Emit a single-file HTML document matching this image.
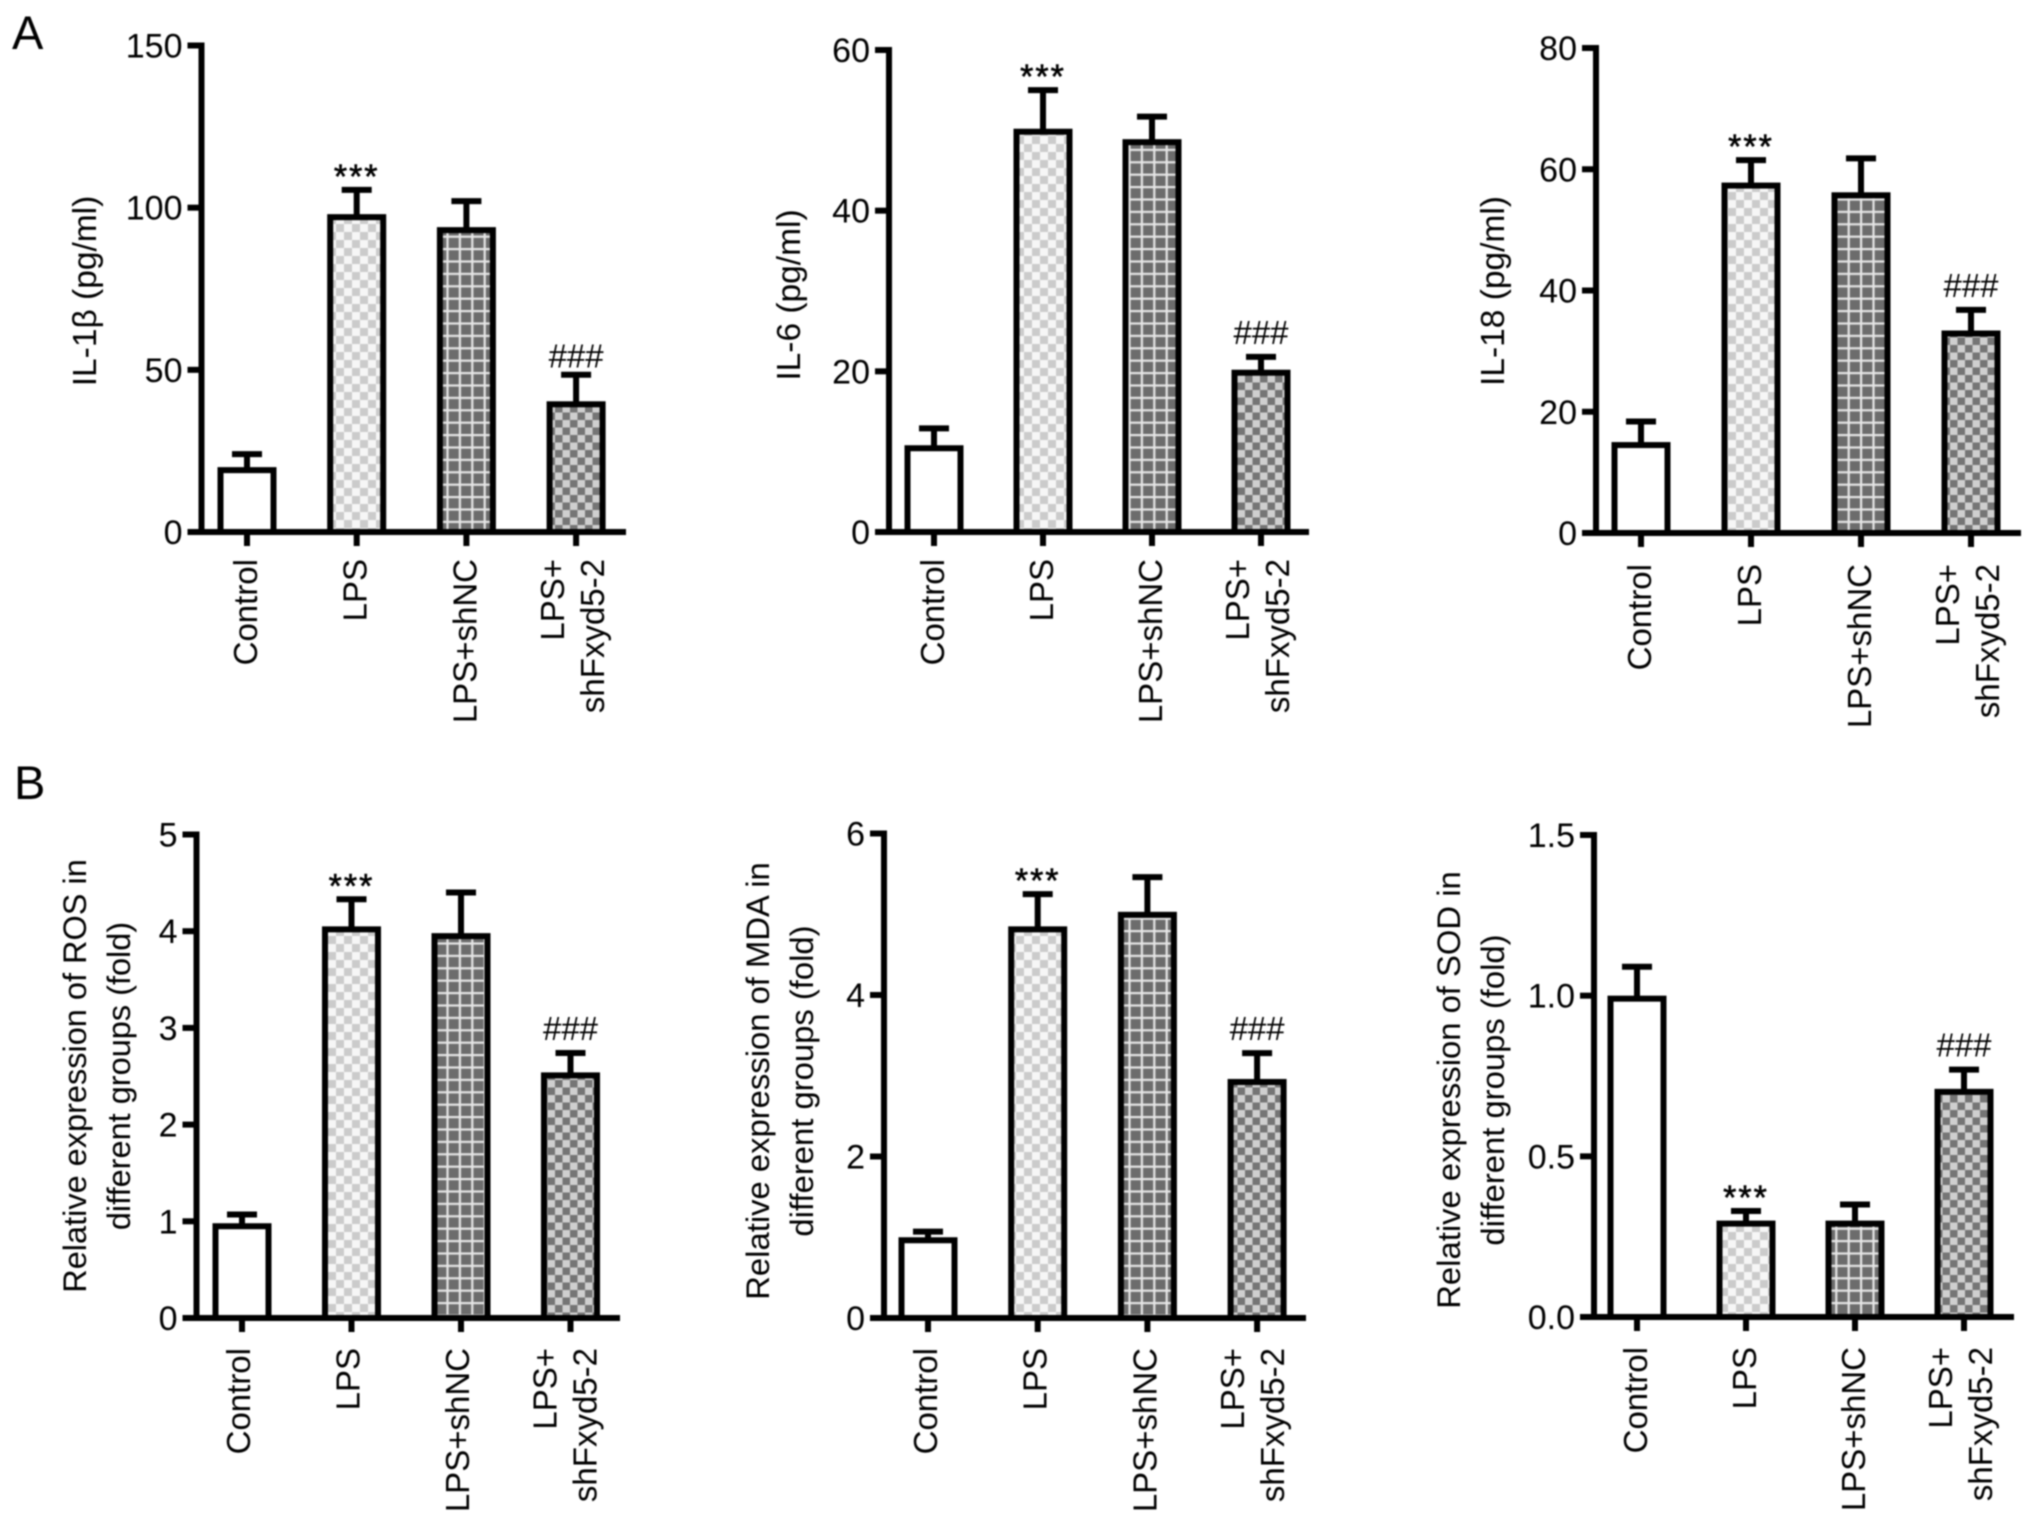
<!DOCTYPE html>
<html lang="en">
<head>
<meta charset="utf-8">
<title>Cytokine and oxidative stress bar charts</title>
<style>
html,body{margin:0;padding:0;background:#fff;}
svg{display:block;filter:blur(0.7px);}
text{font-family:"Liberation Sans",sans-serif;fill:#000;}
</style>
</head>
<body>
<svg id="figure" xmlns="http://www.w3.org/2000/svg" width="2032" height="1522" viewBox="0 0 2032 1522">
  <defs>
    <pattern id="p-light" patternUnits="userSpaceOnUse" width="16" height="16">
      <rect width="16" height="16" fill="#f6f6f6"/>
      <rect width="8" height="8" fill="#cbcbcb"/>
      <rect x="8" y="8" width="8" height="8" fill="#cbcbcb"/>
    </pattern>
    <pattern id="p-grid" patternUnits="userSpaceOnUse" width="12.4" height="12.4">
      <rect width="12.4" height="12.4" fill="#6c6c6c"/>
      <rect width="2.2" height="12.4" fill="#e6e6e6"/>
      <rect width="12.4" height="2.2" fill="#e6e6e6"/>
    </pattern>
    <pattern id="p-check" patternUnits="userSpaceOnUse" width="15" height="15">
      <rect width="15" height="15" fill="#cfcfcf"/>
      <rect width="7.5" height="7.5" fill="#757575"/>
      <rect x="7.5" y="7.5" width="7.5" height="7.5" fill="#757575"/>
    </pattern>
  </defs>
  <text x="12" y="49" font-size="47">A</text>
  <text x="14" y="799" font-size="47">B</text>
</svg>
<script>
// ---- Shared category data ----
const categories = ["Control", "LPS", "LPS+shNC", "LPS+|shFxyd5-2"];
const categorySlugs = ["control", "lps", "lps-shnc", "lps-shfxyd5-2"];
const barFills = ["#ffffff", "url(#p-light)", "url(#p-grid)", "url(#p-check)"];

// ---- Series values (bar mean, top of error bar) ----
const il1bValues = [20, 98, 94, 40.3];
const il1bErrorTops = [24, 105.5, 102, 48.5];
const il1bTicks = ["0", "50", "100", "150"];
const il1bMarks = ["", "***", "", "###"];

const il6Values = [10.8, 50.2, 48.9, 20.2];
const il6ErrorTops = [12.9, 55, 51.7, 21.8];
const il6Ticks = ["0", "20", "40", "60"];
const il6Marks = ["", "***", "", "###"];

const il18Values = [15, 57.8, 56.2, 33.4];
const il18ErrorTops = [18.4, 61.5, 61.8, 36.8];
const il18Ticks = ["0", "20", "40", "60", "80"];
const il18Marks = ["", "***", "", "###"];

const rosValues = [0.98, 4.05, 3.98, 2.54];
const rosErrorTops = [1.07, 4.33, 4.4, 2.74];
const rosTicks = ["0", "1", "2", "3", "4", "5"];
const rosMarks = ["", "***", "", "###"];

const mdaValues = [1, 4.85, 5.03, 2.96];
const mdaErrorTops = [1.07, 5.25, 5.46, 3.28];
const mdaTicks = ["0", "2", "4", "6"];
const mdaMarks = ["", "***", "", "###"];

const sodValues = [1, 0.3, 0.3, 0.71];
const sodErrorTops = [1.09, 0.33, 0.35, 0.77];
const sodTicks = ["0.0", "0.5", "1.0", "1.5"];
const sodMarks = ["", "***", "", "###"];

const NS = "http://www.w3.org/2000/svg";
const svg = document.getElementById("figure");

function mk(parent, tag, attrs, txt) {
  const el = document.createElementNS(NS, tag);
  for (const k in attrs) el.setAttribute(k, attrs[k]);
  if (txt !== undefined) el.textContent = txt;
  parent.appendChild(el);
  return el;
}

function drawPanel(p) {
  const FS = 33;
  const SW = 6;
  const g = mk(svg, "g", {});
  
  

  const maxTick = parseFloat(p.ticks[p.ticks.length - 1]);
  const yScale = v => p.bottom - (v / maxTick) * (p.bottom - p.top);
  const xScale = i => p.x0 + i * p.step;

  // bars and error bars
  p.values.forEach((v, i) => {
    const cx = xScale(i);
    const slug = categorySlugs[i];
    const yTop = yScale(p.errorTops[i]);
    const barTop = yScale(v) + SW / 2;

    const stem = mk(g, "line", {x1: cx, x2: cx, y1: barTop, y2: yTop, stroke: "#000", "stroke-width": SW});
    
    

    const cap = mk(g, "line", {x1: cx - 15, x2: cx + 15, y1: yTop, y2: yTop, stroke: "#000", "stroke-width": SW});
    
    

    const bar = mk(g, "rect", {x: cx - 26.5, y: barTop, width: 53, height: p.bottom - barTop, fill: barFills[i], stroke: "#000", "stroke-width": SW});
    
    

    const mark = p.marks[i];
    if (mark === "***") {
      const s = mk(g, "text", {x: cx, y: yTop - 2, "font-size": 34, "text-anchor": "middle", "letter-spacing": 2, stroke: "#000", "stroke-width": 0.6}, mark);
      
      
    } else if (mark === "###") {
      const s = mk(g, "text", {x: cx, y: yTop - p.hashLift, "font-size": 33, "text-anchor": "middle"}, mark);
      
      
    }
  });

  // axes
  const yAxis = mk(g, "line", {x1: p.axisX, x2: p.axisX, y1: p.top - 3, y2: p.bottom + 3, stroke: "#000", "stroke-width": SW});
  
  

  const xAxis = mk(g, "line", {x1: p.axisX - 14, x2: p.xEnd, y1: p.bottom, y2: p.bottom, stroke: "#000", "stroke-width": SW});
  
  

  // y ticks
  p.ticks.forEach(label => {
    const y = yScale(parseFloat(label));
    const t = mk(g, "line", {x1: p.axisX - 14, x2: p.axisX, y1: y, y2: y, stroke: "#000", "stroke-width": SW});
    
    
    const l = mk(g, "text", {x: p.axisX - 19, y: y + 12, "font-size": 34, "text-anchor": "end"}, label);
    
    
  });

  // x ticks and labels
  categories.forEach((label, i) => {
    const cx = xScale(i);
    const t = mk(g, "line", {x1: cx, x2: cx, y1: p.bottom, y2: p.bottom + 14, stroke: "#000", "stroke-width": SW});
    
    
    const parts = label.split("|");
    const labelTop = p.bottom + p.labelGap;
    parts.forEach((part, k) => {
      const off = parts.length === 1 ? 10 : (k === 0 ? -12 : 28);
      const tx = cx + off + p.labelShift;
      const l = mk(g, "text", {x: tx, y: labelTop, "font-size": FS, "text-anchor": "end", transform: "rotate(-90 " + tx + " " + labelTop + ")"}, part);
      
      
    });
  });

  // y title
  p.title.forEach((line, k) => {
    const tx = p.titleX + k * 44;
    const l = mk(g, "text", {x: tx, y: p.titleY, "font-size": p.titleSize, "text-anchor": "middle", transform: "rotate(-90 " + tx + " " + p.titleY + ")"}, line);
    
    
  });
}

drawPanel({name: "il-1b", values: il1bValues, errorTops: il1bErrorTops, ticks: il1bTicks, marks: il1bMarks, hashLift: 7, titleSize: 33.5, labelShift: 0,
  axisX: 201.5, top: 45.5, bottom: 532, x0: 247, step: 109.7, xEnd: 626, labelGap: 27, title: ["IL-1β (pg/ml)"], titleX: 96, titleY: 291});
drawPanel({name: "il-6", values: il6Values, errorTops: il6ErrorTops, ticks: il6Ticks, marks: il6Marks, hashLift: 13, titleSize: 33.5, labelShift: 0,
  axisX: 889, top: 50, bottom: 532, x0: 934, step: 109, xEnd: 1309, labelGap: 27, title: ["IL-6 (pg/ml)"], titleX: 800, titleY: 295});
drawPanel({name: "il-18", values: il18Values, errorTops: il18ErrorTops, ticks: il18Ticks, marks: il18Marks, hashLift: 13, titleSize: 33.5, labelShift: 0,
  axisX: 1596, top: 48, bottom: 533, x0: 1641, step: 110, xEnd: 2021, labelGap: 31, title: ["IL-18 (pg/ml)"], titleX: 1504, titleY: 291});
drawPanel({name: "ros", values: rosValues, errorTops: rosErrorTops, ticks: rosTicks, marks: rosMarks, hashLift: 13, titleSize: 32.5, labelShift: -2,
  axisX: 196.5, top: 834.5, bottom: 1318, x0: 242, step: 109.5, xEnd: 620, labelGap: 30, title: ["Relative expression of ROS in", "different groups (fold)"], titleX: 86, titleY: 1076});
drawPanel({name: "mda", values: mdaValues, errorTops: mdaErrorTops, ticks: mdaTicks, marks: mdaMarks, hashLift: 13, titleSize: 32.8, labelShift: -1,
  axisX: 884, top: 833.5, bottom: 1318, x0: 928, step: 109.7, xEnd: 1306, labelGap: 30, title: ["Relative expression of MDA in", "different groups (fold)"], titleX: 769, titleY: 1081});
drawPanel({name: "sod", values: sodValues, errorTops: sodErrorTops, ticks: sodTicks, marks: sodMarks, hashLift: 13, titleSize: 32.8, labelShift: 0,
  axisX: 1594, top: 835, bottom: 1317, x0: 1637, step: 109, xEnd: 2014, labelGap: 30, title: ["Relative expression of SOD in", "different groups (fold)"], titleX: 1460, titleY: 1090});
</script>
</body>
</html>
